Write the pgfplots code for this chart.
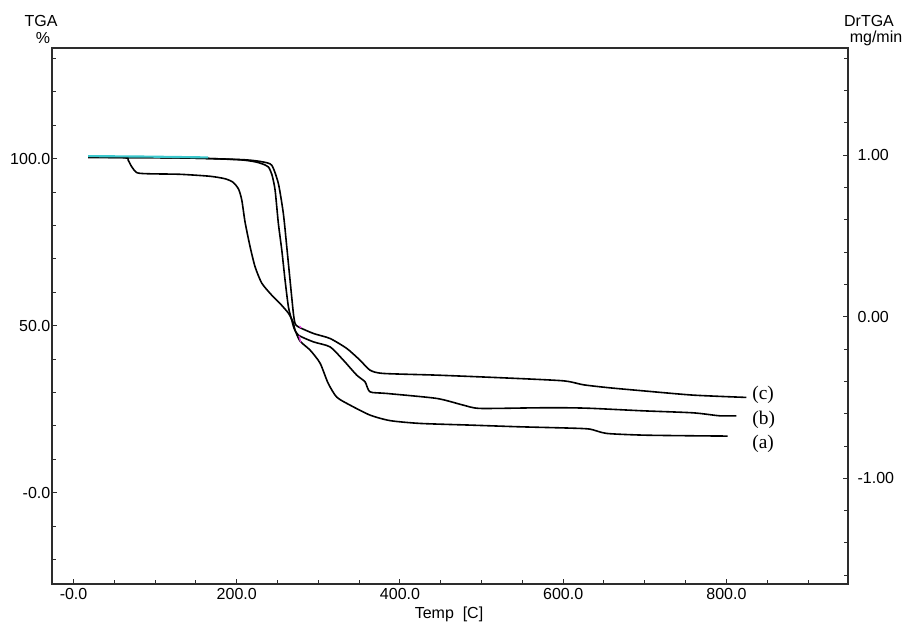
\documentclass[border=0pt]{standalone}
\usepackage{fontspec}
\setmainfont{Liberation Sans}
\newfontfamily\serifl{Liberation Serif}
\usepackage{pgfplots}
\pgfplotsset{compat=1.18}
\definecolor{axgray}{RGB}{45,45,45}
\definecolor{tgacyan}{RGB}{60,200,205}
\definecolor{tgapink}{RGB}{220,60,220}

\begin{document}
\begin{tikzpicture}
  \pgfplotsset{
    tgabase/.style={
      width=597pt, height=402pt, scale only axis,
      xmin=-26.4, xmax=949,
      tick align=inside,
      major tick length=3.75pt, minor tick length=3pt,
      every tick/.style={axgray, line width=0.75pt},
      axis line style={axgray, line width=1pt},
      tick label style={font=\fontsize{12}{14}\selectfont},
    },
  }
  \begin{axis}[tgabase, name=ax,
      ymin=-27.3, ymax=133.1,
      xtick={0,200,400,600,800},
      xticklabels={-0.0,200.0,400.0,600.0,800.0},
      minor xtick={50,100,...,900},
      ytick={0,50,100},
      yticklabels={-0.0,50.0,100.0},
      minor ytick={-20,-10,...,130},
      xtick pos=bottom, ytick pos=left,
      yticklabel style={xshift=2.25pt},
    ]
    % (a)
    \addplot[black, line width=1.2pt, smooth, tension=0.4] coordinates {
      (18.0,100.39)(63.3,100.24)(67.0,99.49)(71.3,97.55)(78.0,95.75)(93.9,95.45)
      (130.6,95.30)(167.3,94.71)(185.7,93.96)(195.5,92.91)(202.3,90.82)(206.2,87.53)
      (210.2,80.95)(216.4,73.56)(222.5,67.58)(230.7,62.71)(242.9,59.12)(253.0,56.64)
      (263.3,53.74)(269.0,51.05)(271.5,48.65)(277.6,45.37)(289.9,42.68)(302.1,38.79)
      (311.9,32.81)(322.5,28.62)(338.8,26.23)(363.3,23.24)(387.8,21.59)(424.5,20.75)
      (485.7,20.25)(546.9,19.74)(608.2,19.35)(632.7,19.05)(653.1,17.76)(697.6,17.25)
      (758.8,17.05)(801.6,16.96)
    };
    % (b)
    \addplot[black, line width=1.2pt, smooth, tension=0.4] coordinates {
      (18.0,100.39)(93.9,100.30)(155.1,100.09)(204.1,99.64)(222.5,99.04)(231.1,98.44)
      (238.8,97.49)(243.3,95.0)(247.0,90.52)(251.0,80.56)(255.2,72.58)(259.2,63.61)
      (263.3,55.62)(267.4,51.64)(270.2,49.25)(275.5,47.16)(293.9,45.16)(314.3,43.66)
      (330.6,39.68)(347.0,35.20)(357.2,33.19)(363.3,30.20)(383.7,29.72)(445.0,28.23)
      (477.5,26.23)(498.0,25.24)(567.4,25.42)(608.2,25.42)(636.7,25.24)(697.9,24.52)
      (759.2,23.92)(791.8,23.03)(812.3,23.03)
    };
    % (c)
    \addplot[black, line width=1.2pt, smooth, tension=0.4] coordinates {
      (18.0,100.39)(93.9,100.30)(155.1,100.09)(210.2,99.64)(231.1,99.04)(242.9,98.0)
      (251.0,92.52)(257.1,83.55)(261.3,73.56)(265.3,63.61)(269.4,53.65)(271.5,50.66)
      (275.5,49.64)(293.9,47.67)(314.3,46.17)(334.8,43.18)(351.0,39.68)(363.3,36.69)
      (379.6,35.71)(445.0,35.20)(526.5,34.39)(600.0,33.50)(625.0,32.30)(657.2,31.40)
      (697.9,30.50)(759.2,29.22)(824.5,28.53)
    };
    % instrument marks
    \addplot[tgacyan, line width=1.6pt] coordinates {(18.0,100.75)(90,100.6)(164.9,100.35)};
    \addplot[tgapink, line width=1pt] coordinates {(276.3,47.0)(278.3,45.0)};
    \addplot[tgapink, line width=1pt] coordinates {(276.8,49.9)(279.0,49.3)};
    \node[font=\serifl\fontsize{14.5}{16}\selectfont] at (axis cs:845,29.4) {(c)};
    \node[font=\serifl\fontsize{14.5}{16}\selectfont] at (axis cs:845.7,21.8) {(b)};
    \node[font=\serifl\fontsize{14.5}{16}\selectfont] at (axis cs:845,14.6) {(a)};
  \end{axis}
  \begin{axis}[tgabase,
      ymin=-1.654, ymax=1.664,
      axis x line=none, axis y line*=right,
      y axis line style={-},
      ytick={-1,0,1},
      yticklabels={-1.00,0.00,1.00},
      minor ytick={-1.6,-1.4,...,1.61},
      yticklabel style={xshift=3.7pt},
    ]
  \end{axis}
  \node[font=\fontsize{12}{14}\selectfont] at ([xshift=-8.25pt,yshift=20.25pt]ax.north west) {TGA};
  \node[font=\fontsize{12}{14}\selectfont] at ([xshift=-6.75pt,yshift=7.5pt]ax.north west) {\%};
  \node[font=\fontsize{12}{14}\selectfont] at ([xshift=15.75pt,yshift=20.25pt]ax.north east) {DrTGA};
  \node[font=\fontsize{12}{14}\selectfont] at ([xshift=21pt,yshift=7.5pt]ax.north east) {mg/min};
  \node[font=\fontsize{12}{14}\selectfont] at ([xshift=-0.75pt,yshift=-22.5pt]ax.south) {Temp\ \ [C]};
  \pgfresetboundingbox
  \path ([xshift=-39pt,yshift=-31.5pt]ax.south west) rectangle ([xshift=45pt,yshift=36pt]ax.north east);
\end{tikzpicture}
\end{document}
